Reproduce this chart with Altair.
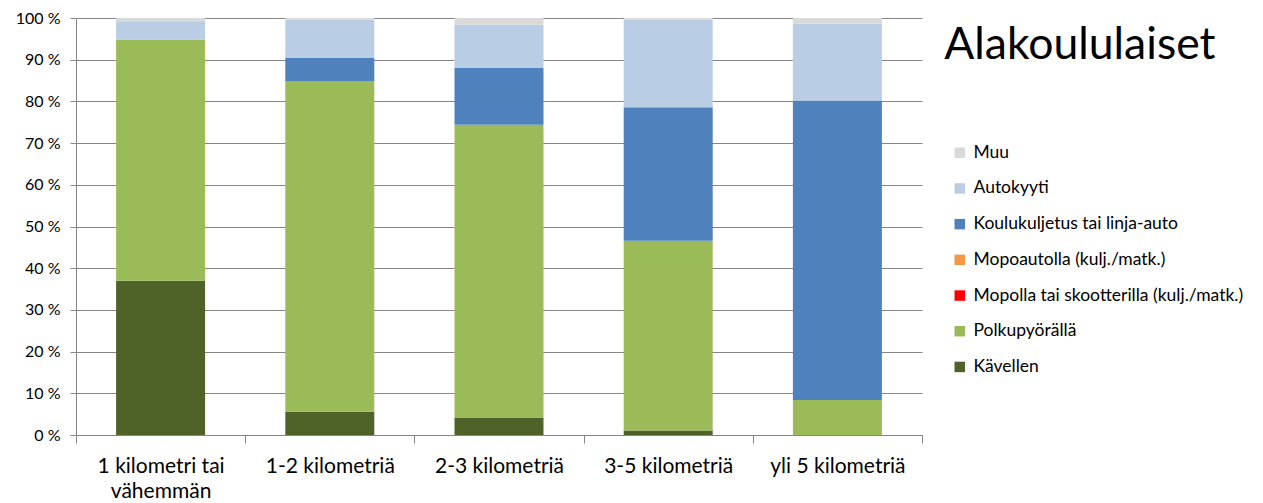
import altair as alt
import pandas as pd

categories = ["1 kilometri tai vähemmän", "1-2 kilometriä", "2-3 kilometriä", "3-5 kilometriä", "yli 5 kilometriä"]
series = ["Kävellen", "Polkupyörällä", "Mopolla tai skootterilla (kulj./matk.)",
          "Mopoautolla (kulj./matk.)", "Koulukuljetus tai linja-auto", "Autokyyti", "Muu"]
colors = ["#4F6228", "#9BBB59", "#FF0000", "#F79646", "#4F81BD", "#B9CDE5", "#D9D9D9"]

kavellen = [37.0, 5.6, 4.2, 1.1, 0.0]
polkupyoralla = [57.8, 79.2, 70.2, 45.5, 8.4]
mopolla = [0.0, 0.0, 0.0, 0.0, 0.0]
mopoauto = [0.0, 0.0, 0.0, 0.0, 0.0]
koulukuljetus = [0.0, 5.6, 13.6, 32.0, 71.8]
autokyyti = [4.4, 9.2, 10.4, 21.0, 18.4]
muu = [0.8, 0.4, 1.6, 0.4, 1.4]

values = [kavellen, polkupyoralla, mopolla, mopoauto, koulukuljetus, autokyyti, muu]
rows = []
for si, (s, vals) in enumerate(zip(series, values)):
    for c, v in zip(categories, vals):
        rows.append({"cat": c, "series": s, "value": v, "order": si})
df = pd.DataFrame(rows)

FONT = "Lato"

chart = alt.Chart(df).mark_bar(size=89).encode(
    x=alt.X("cat:N", sort=categories, title=None,
            scale=alt.Scale(paddingInner=0, paddingOuter=0),
            axis=alt.Axis(labelAngle=0, labelFontSize=21, labelColor="#000000", labelFont=FONT,
                          tickBand="extent", tickColor="#868686", tickSize=8,
                          domainColor="#868686", labelPadding=12, labelLineHeight=25,
                          labelExpr="datum.value == '1 kilometri tai vähemmän' ? ['1 kilometri tai', 'vähemmän'] : datum.value")),
    y=alt.Y("value:Q", stack="zero", title=None,
            scale=alt.Scale(domain=[0, 100], nice=False),
            axis=alt.Axis(values=list(range(0, 101, 10)), labelExpr="datum.value + ' %'",
                          labelFontSize=16, labelColor="#000000", labelFont=FONT,
                          grid=True, gridColor="#868686", gridWidth=1,
                          tickColor="#868686", tickSize=6, domainColor="#868686", labelPadding=10)),
    color=alt.Color("series:N", scale=alt.Scale(domain=series, range=colors),
                    sort=series[::-1],
                    legend=alt.Legend(title=None, orient="none", legendX=875, legendY=126,
                                      symbolType="square", symbolSize=110, symbolStrokeWidth=0,
                                      labelFontSize=17.5, labelFont=FONT, labelColor="#000000",
                                      rowPadding=16.7, labelOffset=5, labelLimit=400,
                                      values=series[::-1])),
    order=alt.Order("order:Q"),
).properties(
    width=846, height=417,
    autosize=alt.AutoSizeParams(type="none"),
    padding={"left": 68, "top": 10, "right": 333, "bottom": 67},
    title=alt.TitleParams("Alakoululaiset", anchor="start", dx=929, dy=93, offset=0,
                          fontSize=44.5, font=FONT, fontWeight="normal", color="#000000",
                          baseline="alphabetic"),
).configure_view(stroke=None)

chart.save("out.html", embed_options={"renderer": "svg", "actions": False})
